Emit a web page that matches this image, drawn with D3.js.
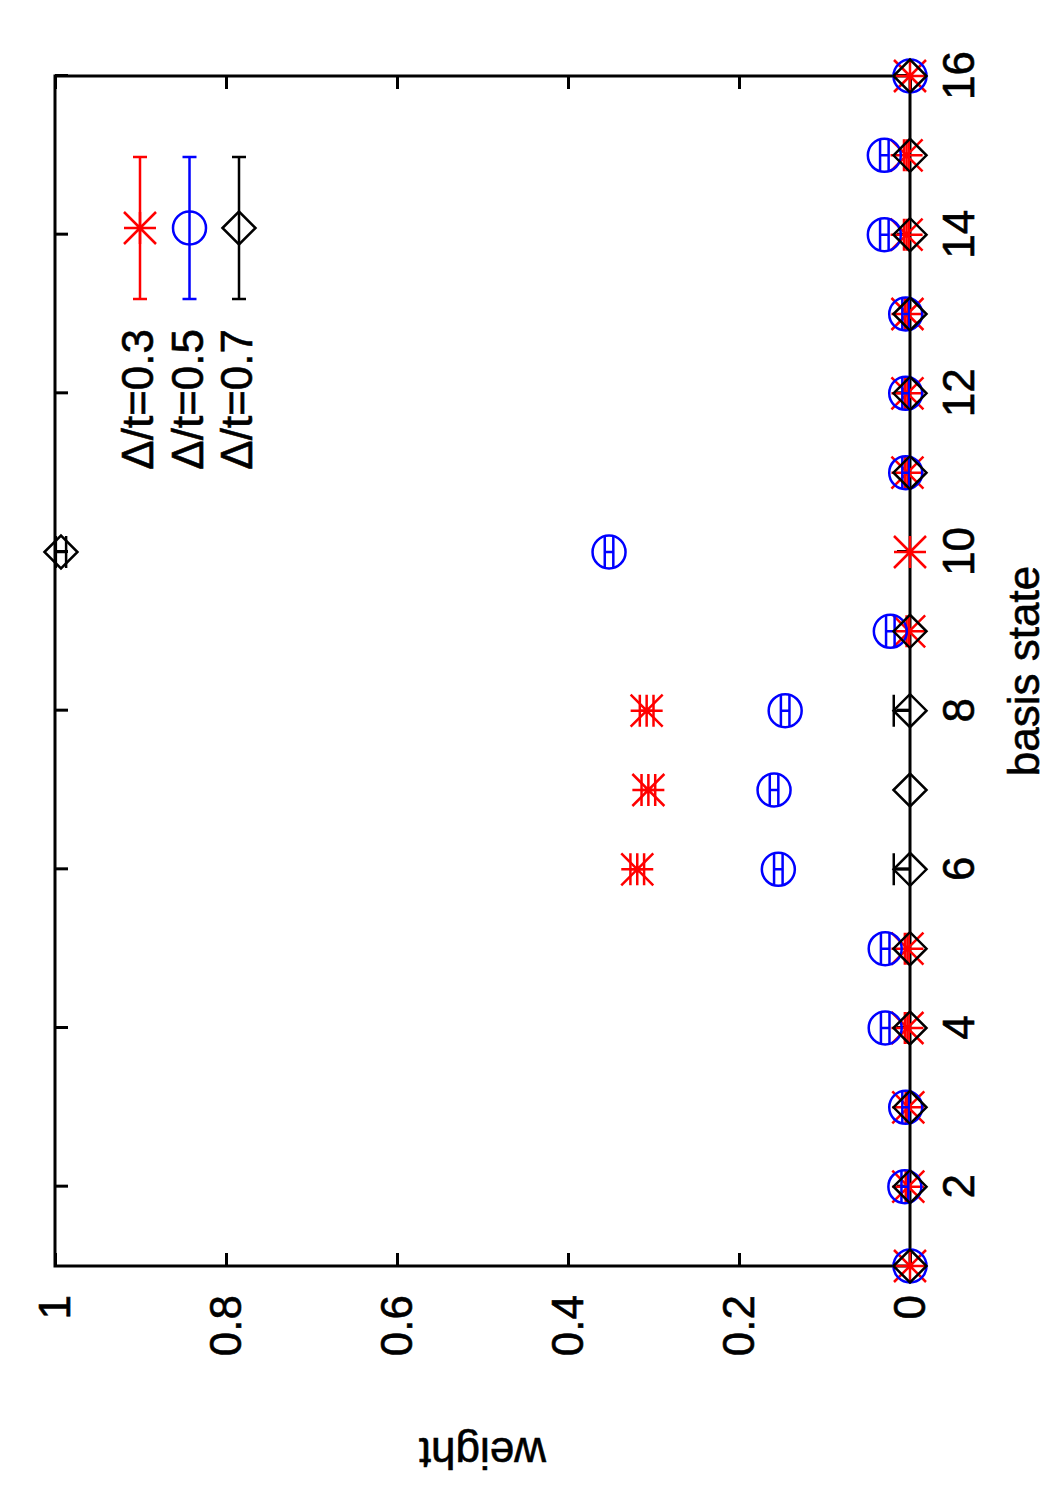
<!DOCTYPE html>
<html>
<head>
<meta charset="utf-8">
<script src="https://cdn.jsdelivr.net/npm/d3@7"></script>
<style>
  body { margin: 0; background: #fff; }
  text { font-family: "Liberation Sans", Arial, Helvetica, sans-serif; fill: #000; stroke: #000; stroke-width: 0.6px; }
</style>
</head>
<body>
<svg id="chart" width="1050" height="1500"></svg>
<script>
// basis states on the x axis, weights on the y axis (whole plot is turned 90 deg)
const states = [1, 2, 3, 4, 5, 6, 7, 8, 9, 10, 11, 12, 13, 14, 15, 16];

const weight03 = [0, 0.002, 0.002, 0.003, 0.003, 0.319, 0.306, 0.308, 0.001, 0, 0.003, 0.003, 0.003, 0.004, 0.004, 0];
const err03    = [0, 0.003, 0.003, 0.003, 0.003, 0.008, 0.008, 0.008, 0.003, 0, 0.003, 0.003, 0.003, 0.003, 0.003, 0];

const weight05 = [0, 0.006, 0.005, 0.029, 0.029, 0.154, 0.159, 0.146, 0.023, 0.352, 0.005, 0.005, 0.005, 0.030, 0.030, 0];
const err05    = [0, 0.004, 0.004, 0.005, 0.005, 0.005, 0.005, 0.005, 0.005, 0.005, 0.004, 0.004, 0.004, 0.005, 0.005, 0];

const weight07 = [0, 0, 0, 0, 0, 0, 0, 0, 0, 0.993, 0, 0, 0, 0, 0, 0];
const err07    = [0, 0, 0, 0, 0, 0.019, 0, 0.019, 0, 0.006, 0, 0, 0, 0, 0, 0];

const seriesNames = ["Δ/t=0.3", "Δ/t=0.5", "Δ/t=0.7"];
const stateTicks = [2, 4, 6, 8, 10, 12, 14, 16];
const weightTicks = [0, 0.2, 0.4, 0.6, 0.8, 1];
const weightLabels = ["0", "0.2", "0.4", "0.6", "0.8", "1"];

const series = [
  { name: seriesNames[0], w: weight03, e: err03, color: "#ff0000", shape: "star" },
  { name: seriesNames[1], w: weight05, e: err05, color: "#0000ff", shape: "circle" },
  { name: seriesNames[2], w: weight07, e: err07, color: "#000000", shape: "diamond" }
];

const W = 1190, H = 855;   // plot size in the unrotated frame
const fontSize = 44;

const svg = d3.select("#chart");
svg.append("rect").attr("width", 1050).attr("height", 1500).attr("fill", "#fff");

// rotate the whole plot counter-clockwise
const g = svg.append("g").attr("transform", "translate(55,1266) rotate(-90)");

const x = d3.scaleLinear().domain([1, 16]).range([0, W]);
const y = d3.scaleLinear().domain([0, 1]).range([H, 0]);

g.append("clipPath").attr("id", "plotClip")
  .append("rect").attr("width", W).attr("height", H);

function symbolPath(shape, r) {
  if (shape === "star") {
    return `M${-r},0H${r}M0,${-r}V${r}M${-r},${-r}L${r},${r}M${-r},${r}L${r},${-r}`;
  }
  if (shape === "circle") {
    return `M${r},0A${r},${r} 0 1,1 ${-r},0A${r},${r} 0 1,1 ${r},0`;
  }
  return `M0,${-r}L${r},0L0,${r}L${-r},0Z`;
}

// axes, ticks inward and mirrored
function styleAxis(sel) {
  sel.select(".domain").remove();
  sel.selectAll(".tick line").attr("stroke", "#000").attr("stroke-width", 3);
  sel.selectAll(".tick text").attr("font-size", fontSize).attr("fill", "#000");
}

g.append("g").attr("transform", `translate(0,${H})`)
  .call(d3.axisBottom(x).tickValues(stateTicks).tickSize(-13).tickPadding(33))
  .call(styleAxis);
g.append("g")
  .call(d3.axisTop(x).tickValues(stateTicks).tickSize(-13).tickFormat(""))
  .call(styleAxis);
g.append("g")
  .call(d3.axisLeft(y).tickValues(weightTicks).tickFormat((d, i) => weightLabels[i]).tickSize(-13).tickPadding(29))
  .call(styleAxis);
g.append("g").attr("transform", `translate(${W},0)`)
  .call(d3.axisRight(y).tickValues(weightTicks).tickSize(-13).tickFormat(""))
  .call(styleAxis);

g.append("rect")
  .attr("width", W).attr("height", H)
  .attr("fill", "none").attr("stroke", "#000").attr("stroke-width", 3);

// axis titles
g.append("text")
  .attr("transform", `translate(-172,${H / 2}) rotate(-90)`)
  .attr("text-anchor", "middle").attr("font-size", fontSize)
  .text("weight");
g.append("text")
  .attr("x", W / 2).attr("y", 984)
  .attr("text-anchor", "middle").attr("font-size", fontSize)
  .text("basis state");

// data: error bars (clipped) then points
const capHalf = 16;
series.forEach(s => {
  const bars = g.append("g").attr("clip-path", "url(#plotClip)")
    .attr("stroke", s.color).attr("stroke-width", 2.5).attr("fill", "none");
  states.forEach((st, i) => {
    if (s.e[i] <= 0) return;
    const cx = x(st), lo = y(s.w[i] - s.e[i]), hi = y(s.w[i] + s.e[i]);
    bars.append("path")
      .attr("d", `M${cx},${lo}V${hi}M${cx - capHalf},${lo}H${cx + capHalf}M${cx - capHalf},${hi}H${cx + capHalf}`);
  });

  g.append("g").selectAll("path")
    .data(states)
    .join("path")
    .attr("transform", (d, i) => `translate(${x(d)},${y(s.w[i])})`)
    .attr("d", symbolPath(s.shape, s.shape === "star" ? 16 : 16.5))
    .attr("fill", "none")
    .attr("stroke", s.color)
    .attr("stroke-width", 2.5);
});

// key, top right of the unrotated frame
const key = g.append("g");
series.forEach((s, i) => {
  const row = 85 + 49.5 * i;
  const u0 = 967, u1 = 1109, um = 1038;
  key.append("path")
    .attr("d", `M${u0},${row}H${u1}M${u0},${row - 7}V${row + 7}M${u1},${row - 7}V${row + 7}`)
    .attr("stroke", s.color).attr("stroke-width", 2.5).attr("fill", "none");
  key.append("path")
    .attr("transform", `translate(${um},${row})`)
    .attr("d", symbolPath(s.shape, s.shape === "star" ? 16 : 16.5))
    .attr("fill", "none").attr("stroke", s.color).attr("stroke-width", 2.5);
  key.append("text")
    .attr("x", 937).attr("y", row).attr("dy", "0.3em")
    .attr("text-anchor", "end").attr("font-size", fontSize)
    .text(s.name);
});
</script>
</body>
</html>
